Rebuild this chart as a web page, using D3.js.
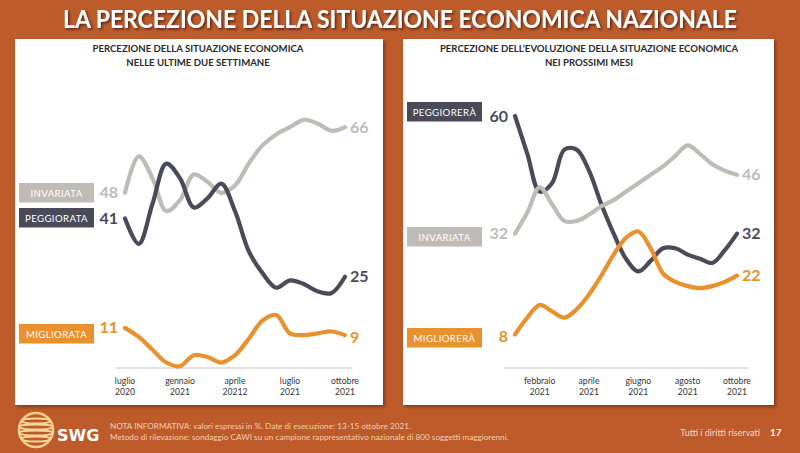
<!DOCTYPE html>
<html><head><meta charset="utf-8">
<script src="https://cdn.jsdelivr.net/npm/d3@7"></script>
<style>
html,body{margin:0;padding:0;background:#bd5b2a;}
svg{display:block;}
</style></head>
<body>
<svg id="chart" width="800" height="453"></svg>
<script>
// ---------- DATA ----------
const title = "LA PERCEZIONE DELLA SITUAZIONE ECONOMICA NAZIONALE";

// Left chart: perception over the last two weeks (luglio 2020 – ottobre 2021)
const leftTitle = ["PERCEZIONE DELLA SITUAZIONE ECONOMICA", "NELLE ULTIME DUE SETTIMANE"];
const leftInvariata  = [48, 58, 52, 43, 46, 53, 51, 48, 50, 56, 61, 64, 66, 68, 67, 65, 66];
const leftPeggiorata = [41, 34, 45, 56, 52, 44, 46.5, 50.5, 43, 32, 26, 22, 24, 23, 21, 20.5, 25];
const leftMigliorata = [11, 8.5, 5, 1.5, 0.5, 3.5, 3, 1.5, 3.5, 8, 13, 14.5, 9.5, 9, 9.5, 10, 9];
const leftTickIdx    = [0, 4, 8, 12, 16];
const leftTickLabels = [["luglio","2020"],["gennaio","2021"],["aprile","20212"],["luglio","2021"],["ottobre","2021"]];
const leftLegend     = ["INVARIATA", "PEGGIORATA", "MIGLIORATA"];

// Right chart: expected evolution in the coming months (gennaio – ottobre 2021)
const rightTitle = ["PERCEZIONE DELL\u2019EVOLUZIONE DELLA SITUAZIONE ECONOMICA", "NEI PROSSIMI MESI"];
const rightPeggiorera = [60, 51, 42, 44, 52, 52, 47, 39, 32, 26, 23, 25.5, 28.5, 28.5, 27, 26, 25, 28, 32];
const rightInvariata  = [32, 37, 43, 39, 35, 35, 36.5, 38.5, 40, 42, 44, 46, 48, 50.5, 53, 51, 48.5, 47, 46];
const rightMigliorera = [8, 12, 15, 13.5, 12, 14, 17.5, 22, 27, 31, 32.5, 28.5, 22.5, 20.5, 19.5, 19, 19.5, 20.5, 22];
const rightTickIdx    = [2, 6, 10, 14, 18];
const rightTickLabels = [["febbraio","2021"],["aprile","2021"],["giugno","2021"],["agosto","2021"],["ottobre","2021"]];
const rightLegend     = ["PEGGIORER\u00C0", "INVARIATA", "MIGLIORER\u00C0"];

const footLine1 = "NOTA INFORMATIVA: valori espressi in %. Date di esecuzione: 13-15 ottobre 2021.";
const footLine2 = "Metodo di rilevazione: sondaggio CAWI su un campione rappresentativo nazionale di 800 soggetti maggiorenni.";
const rights = "Tutti i diritti riservati";
const pageNum = "17";

// ---------- STYLE ----------
const C = {bg:"#bd5b2a", gray:"#bfbbb6", dark:"#4b4a59", orange:"#e8912e", text:"#2b2b2b"};
const F = "Lato, 'Open Sans', sans-serif";

const svg = d3.select("#chart");
const defs = svg.append("defs");
const sh = defs.append("filter").attr("id","tshadow").attr("x","-5%").attr("y","-20%").attr("width","110%").attr("height","160%");
sh.append("feDropShadow").attr("dx",1.5).attr("dy",1.5).attr("stdDeviation",0.8).attr("flood-color","#3a1a0a").attr("flood-opacity",0.8);
const psh = defs.append("filter").attr("id","pshadow").attr("x","-5%").attr("y","-5%").attr("width","110%").attr("height","110%");
psh.append("feDropShadow").attr("dx",2).attr("dy",2).attr("stdDeviation",1.5).attr("flood-color","#5a2510").attr("flood-opacity",0.6);

svg.append("rect").attr("width",800).attr("height",453).attr("fill",C.bg);

// Title
svg.append("text").attr("x",400).attr("y",28).attr("text-anchor","middle")
  .attr("font-family","'Liberation Sans Narrow', 'Arial Narrow', Lato, sans-serif")
  .attr("font-weight","bold").attr("font-size",25).attr("fill","#fff")
  .attr("textLength",674).attr("lengthAdjust","spacingAndGlyphs")
  .attr("filter","url(#tshadow)").text(title);

// Panels
function panel(p){
  const g = svg.append("g");
  g.append("rect").attr("x",p.x).attr("y",p.y).attr("width",p.w).attr("height",p.h)
    .attr("fill","#fff").attr("filter","url(#pshadow)");
  p.titleLines.forEach((t,i)=>{
    g.append("text").attr("x",p.tx).attr("y",p.y+13+i*14).attr("text-anchor","middle")
      .attr("font-family",F).attr("font-weight","bold").attr("font-size",9.6).attr("fill",C.text).text(t);
  });
  const x = d3.scaleLinear().domain([0,p.n-1]).range(p.xr);
  const y = d3.scaleLinear().domain([0,60]).range([p.y0, p.y0 - 60*p.k]);
  // axis line
  g.append("line").attr("x1",p.ax[0]).attr("x2",p.ax[1]).attr("y1",y(0)).attr("y2",y(0))
    .attr("stroke","#c4c4c4").attr("stroke-width",1);
  // ticks labels
  p.tickIdx.forEach((ti,i)=>{
    const t = g.append("text").attr("x",x(ti)).attr("y",y(0)+16).attr("text-anchor","middle")
      .attr("font-family",F).attr("font-size",8.6).attr("fill","#333");
    t.append("tspan").attr("x",x(ti)).text(p.tickLabels[i][0]);
    t.append("tspan").attr("x",x(ti)).attr("dy",11).text(p.tickLabels[i][1]);
  });
  const line = d3.line().x((d,i)=>x(i)).y(d=>y(d)).curve(d3.curveCatmullRom.alpha(0.5));
  p.series.forEach(s=>{
    g.append("path").attr("d",line(s.data)).attr("fill","none").attr("stroke",s.color)
      .attr("stroke-width",4.2).attr("stroke-linecap","round").attr("stroke-linejoin","round");
    const v0 = s.data[0], v1 = s.data[s.data.length-1];
    g.append("text").attr("x",x(0)-7).attr("y",y(v0)+ (s.dy0||0) + 5.5).attr("text-anchor","end")
      .attr("font-family",F).attr("font-weight","bold").attr("font-size",16).attr("fill",s.color).text(v0);
    g.append("text").attr("x",x(p.n-1)+5).attr("y",y(v1)+(s.dy1||0)+5.5).attr("text-anchor","start")
      .attr("font-family",F).attr("font-weight","bold").attr("font-size",16).attr("fill",s.color).text(v1);
    // legend box
    g.append("rect").attr("x",p.lx).attr("y",s.ly).attr("width",75).attr("height",19.5).attr("fill",s.color);
    g.append("text").attr("x",p.lx+37.5).attr("y",s.ly+13.5).attr("text-anchor","middle")
      .attr("font-family",F).attr("font-size",9.6).attr("letter-spacing",0.4).attr("fill","#fff").text(s.name);
  });
}

panel({x:15,y:39,w:368,h:366,tx:198,titleLines:leftTitle,n:leftInvariata.length,
  xr:[125,345],ax:[116,352],y0:368,k:3.65,tickIdx:leftTickIdx,tickLabels:leftTickLabels,lx:19,
  series:[
    {name:leftLegend[0],data:leftInvariata,color:C.gray,ly:183},
    {name:leftLegend[1],data:leftPeggiorata,color:C.dark,ly:208},
    {name:leftLegend[2],data:leftMigliorata,color:C.orange,ly:324,dy1:2}
  ]});

panel({x:403,y:39,w:371,h:366,tx:589,titleLines:rightTitle,n:rightPeggiorera.length,
  xr:[515,737],ax:[504,748],y0:368,k:4.2,tickIdx:rightTickIdx,tickLabels:rightTickLabels,lx:407,
  series:[
    {name:rightLegend[0],data:rightPeggiorera,color:C.dark,ly:102},
    {name:rightLegend[1],data:rightInvariata,color:C.gray,ly:227},
    {name:rightLegend[2],data:rightMigliorera,color:C.orange,ly:328,dy0:2}
  ]});

// Footer: logo
const logo = svg.append("g");
logo.append("circle").attr("cx",36).attr("cy",430).attr("r",17).attr("fill","none").attr("stroke","#f5cf8a").attr("stroke-width",2.5);
[-9,-3,3,9].forEach(dy=>{
  logo.append("ellipse").attr("cx",36).attr("cy",430+dy).attr("rx",Math.sqrt(Math.max(0,289-dy*dy))).attr("ry",2.5)
    .attr("fill","none").attr("stroke","#f7d79a").attr("stroke-width",1.8);
});
logo.append("text").attr("x",57).attr("y",441).attr("font-family","'DejaVu Sans', sans-serif").attr("font-weight","bold")
  .attr("font-size",16).attr("fill","#fff").text("SWG");

svg.append("text").attr("x",110).attr("y",429).attr("font-family",F).attr("font-size",8.2).attr("fill","#f3cdb0").text(footLine1);
svg.append("text").attr("x",110).attr("y",440).attr("font-family",F).attr("font-size",8.2).attr("fill","#f3cdb0").text(footLine2);
svg.append("text").attr("x",760).attr("y",436).attr("text-anchor","end").attr("font-family",F).attr("font-size",9).attr("fill","#f6d8c4").text(rights);
svg.append("text").attr("x",770).attr("y",436).attr("font-family",F).attr("font-weight","bold").attr("font-size",10).attr("fill","#fff").text(pageNum);
</script>
</body></html>
